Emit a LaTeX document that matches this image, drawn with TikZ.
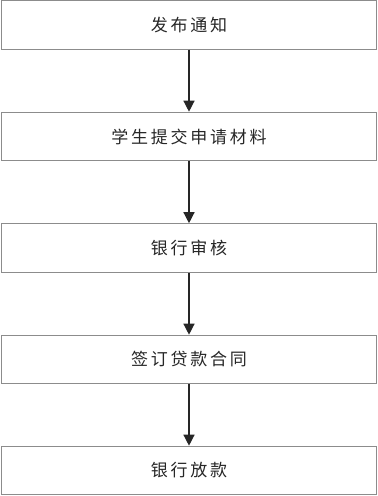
\documentclass[tikz,border=0pt]{standalone}
\usepackage{fontspec}
\newfontfamily\cjk[LetterSpace=16]{Noto Sans CJK SC}
\usetikzlibrary{arrows.meta}
\begin{document}
\begin{tikzpicture}[x=1pt,y=-1pt,
  stepbox/.style={draw=black!45,line width=1.1pt,minimum width=375pt,minimum height=48.5pt,inner sep=0pt,
    font=\cjk\fontsize{17pt}{20pt}\selectfont,text=black!85},
  flow/.style={draw=black!85,line width=1.3pt,-{Triangle[width=11pt,length=11pt]}}]
\useasboundingbox (0,0) rectangle (378,496);
\node[stepbox] (a) at (189,24.8) {发布通知};
\node[stepbox] (b) at (189,136.5) {学生提交申请材料};
\node[stepbox] (c) at (189,248) {银行审核};
\node[stepbox] (d) at (189,359.5) {签订贷款合同};
\node[stepbox] (e) at (189,470.5) {银行放款};
\draw[flow] (a) -- (b);
\draw[flow] (b) -- (c);
\draw[flow] (c) -- (d);
\draw[flow] (d) -- (e);
\end{tikzpicture}
\end{document}
